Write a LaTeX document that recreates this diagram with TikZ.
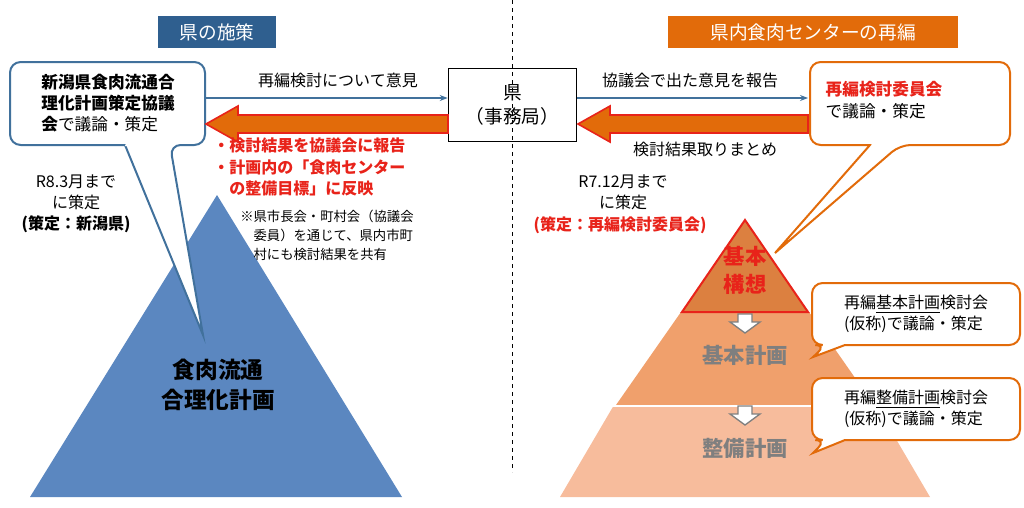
\documentclass[tikz,border=0pt]{standalone}
\usepackage{fontspec}
\setmainfont{Noto Sans CJK JP}
\usetikzlibrary{arrows.meta}
\definecolor{kblue}{HTML}{2F5F8F}
\definecolor{korange}{HTML}{E26B0A}
\definecolor{pblue}{HTML}{5B87C0}
\definecolor{bblue}{HTML}{41719C}
\definecolor{kred}{HTML}{E8231A}
\definecolor{t1}{HTML}{DC8040}
\definecolor{t2}{HTML}{F0A06C}
\definecolor{t3}{HTML}{F7BC9C}
\definecolor{gtxt}{HTML}{7F7F7F}
\begin{document}
\begin{tikzpicture}[x=0.75pt,y=-0.75pt,
  txt/.style={font=\fontsize{12}{14.5}\selectfont,align=center,inner sep=0pt},
  rtxt/.style={font=\fontsize{12}{16}\selectfont\bfseries,text=kred,align=left,inner sep=0pt},
  big/.style={draw=kred,line width=1.2pt,fill=korange},
  thin/.style={draw=bblue,line width=0.8pt,-{Stealth[length=6pt]}}]
\useasboundingbox (0,0) rectangle (1024,507);
\draw[dashed,line width=0.6pt] (512,0) -- (512,472);
% titles
\node[fill=kblue,text=white,font=\fontsize{14}{16}\selectfont,minimum width=88.5pt,minimum height=24pt] (t1) at (217,32) {県の施策};
\node[fill=korange,text=white,font=\fontsize{14}{16}\selectfont,minimum width=217pt,minimum height=24pt] (t2) at (813,32) {県内食肉センターの再編};
% left pyramid
\fill[pblue] (217,195) -- (402,497) -- (30,497) -- cycle;
\node[font=\fontsize{17}{22}\selectfont\bfseries,align=center] (lp) at (218,385) {食肉流通\\合理化計画};
% left callout
\draw[bblue,line width=1.5pt,fill=white,rounded corners=8pt] (125,145) -- (10,145) -- (10,62) -- (205,62) -- (205,145) -- (170,145) [sharp corners]-- (203,335) -- cycle;
\fill[white] (126,143) -- (169,143) -- (170,146) -- (125,146) -- cycle;
\node[txt,align=left,font=\fontsize{12.5}{16}\selectfont] (lc) at (108,103) {\textbf{新潟県食肉流通合}\\\textbf{理化計画策定協議}\\\textbf{会}で議論・策定};
% ken box
\node[draw,line width=1.2pt,minimum width=96pt,minimum height=55pt,font=\fontsize{14}{18}\selectfont,align=center] (ken) at (512.5,105) {県\\（事務局）};
% right callout
\draw[korange,line width=1.5pt,fill=white,rounded corners=8pt] (870,145) -- (810,145) -- (810,62) -- (1010,62) -- (1010,145) -- (900,145) [sharp corners]-- (775,253) -- cycle;
\fill[white] (871,143) -- (899,143) -- (898,146) -- (872,146) -- cycle;
\node[txt,align=left,font=\fontsize{12.5}{16}\selectfont] (rc) at (884,100) {\textcolor{kred}{\textbf{再編検討委員会}}\\で議論・策定};
% thin arrows
\draw[thin] (205,98) -- (ken.west|-0,98);
\draw[thin] (ken.east|-0,98) -- (808,98);
\node[txt] (l1) at (338,80) {再編検討について意見};
\node[txt] (l2) at (690,80) {協議会で出た意見を報告};
% big arrows
\draw[big] (448,115) -- (238,115) -- (238,106) -- (206,124) -- (238,142) -- (238,133) -- (448,133) -- cycle;
\draw[big] (808,115) -- (610,115) -- (610,106) -- (578,124) -- (610,142) -- (610,133) -- (808,133) -- cycle;
\node[txt] (l3) at (705,149) {検討結果取りまとめ};
% red notes
\node[rtxt,anchor=north west] (rn) at (213,138) {・検討結果を協議会に報告\\・計画内の「食肉センター\\\hspace*{1em}の整備目標」に反映};
\node[txt,align=left,anchor=north west,font=\fontsize{10}{14}\selectfont] (nn) at (240,210) {※県市長会・町村会（協議会\\\hspace*{1em}委員）を通じて、県内市町\\\hspace*{1em}村にも検討結果を共有};
% left date
\node[txt,font=\fontsize{12}{15.5}\selectfont] (ld) at (76,192) {R8.3月まで\\に策定};
\node[txt,font=\fontsize{12}{15}\selectfont\bfseries] (ld2) at (76,224) {(策定：新潟県)};
% right date
\node[txt,font=\fontsize{12}{15.5}\selectfont] (rd) at (623,192) {R7.12月まで\\に策定};
\node[txt,font=\fontsize{12}{15}\selectfont\bfseries,text=kred] (rd2) at (620,225) {(策定：再編検討委員会)};
% right pyramid
\fill[t3] (560,497) -- (930,497) -- (876,405) -- (614,405) -- cycle;
\fill[t2] (616,405) -- (874,405) -- (809,312) -- (681,312) -- cycle;
\draw[white,line width=1.5pt] (612,406) -- (878,406);
\draw[kred,line width=1.5pt,fill=t1] (745,220) -- (808,312) -- (682,312) -- cycle;
\node[txt,font=\fontsize{16}{21}\selectfont\bfseries,text=kred] (kk) at (745,270) {基本\\構想};
\node[txt,font=\fontsize{16}{20}\selectfont\bfseries,text=gtxt] (kp) at (745,355) {基本計画};
\node[txt,font=\fontsize{16}{20}\selectfont\bfseries,text=gtxt] (sp) at (745,448) {整備計画};
\draw[gtxt,fill=white,line width=1pt] (738,314) -- (752,314) -- (752,322) -- (760,322) -- (745,333) -- (730,322) -- (738,322) -- cycle;
\draw[gtxt,fill=white,line width=1pt] (738,406) -- (752,406) -- (752,414) -- (760,414) -- (745,425) -- (730,414) -- (738,414) -- cycle;
% callouts
\draw[korange,line width=1.5pt,fill=white,rounded corners=8pt] (845,345) -- (1020,345) -- (1020,283) -- (812,283) -- (812,345) -- (826,345) [sharp corners]-- (813,357) -- cycle;
\node[txt,align=left,font=\fontsize{12}{15.5}\selectfont] (c1) at (916,314) {再編\underline{基本計画}検討会\\(仮称)で議論・策定};
\draw[korange,line width=1.5pt,fill=white,rounded corners=8pt] (845,440) -- (1020,440) -- (1020,378) -- (812,378) -- (812,440) -- (826,440) [sharp corners]-- (813,453) -- cycle;
\node[txt,align=left,font=\fontsize{12}{15.5}\selectfont] (c2) at (916,409) {再編\underline{整備計画}検討会\\(仮称)で議論・策定};
\end{tikzpicture}
\end{document}
